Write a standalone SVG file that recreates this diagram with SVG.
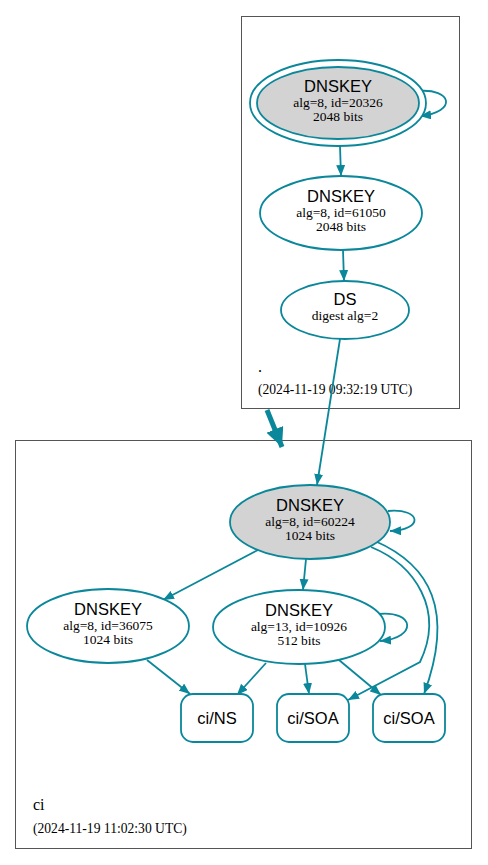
<svg xmlns="http://www.w3.org/2000/svg" width="488" height="865" viewBox="0 0 488 865">
<style>
.cl{fill:#fff;stroke:#555;stroke-width:1}
.n{stroke:#0a879a;stroke-width:1.8;fill:#fff}
.g{fill:#d3d3d3}
.e{fill:none;stroke:#0a879a;stroke-width:1.8}
.t{font-family:"Liberation Sans",Arial,sans-serif;font-size:16.5px;text-anchor:middle;fill:#000}
.s{font-family:"Liberation Serif","Times New Roman",serif;font-size:13.5px;text-anchor:middle;fill:#000}
.c{font-family:"Liberation Serif","Times New Roman",serif;font-size:13.6px;fill:#000}
.cn{font-family:"Liberation Serif","Times New Roman",serif;font-size:16px;fill:#000}
</style>
<defs>
<marker id="a" markerUnits="userSpaceOnUse" markerWidth="12" markerHeight="9" refX="11" refY="4.5" orient="auto">
<path d="M0,0 L11,4.5 L0,9 z" fill="#0a879a"/>
</marker>
<marker id="b" markerUnits="userSpaceOnUse" markerWidth="20" markerHeight="18" refX="19" refY="9" orient="auto">
<path d="M0,0 L19,9 L0,18 z" fill="#0a879a"/>
</marker>
</defs>
<rect width="488" height="865" fill="#fff"/>
<g id="cluster-root">
<rect class="cl" x="241.5" y="16.5" width="218" height="392"/>
<text class="cn" x="258" y="372">.</text>
<text class="c" x="258" y="394">(2024-11-19 09:32:19 UTC)</text>
</g>
<g id="cluster-ci">
<rect class="cl" x="15.5" y="440.5" width="456" height="408"/>
<text class="cn" x="33" y="810">ci</text>
<text class="c" x="33" y="833">(2024-11-19 11:02:30 UTC)</text>
</g>
<g id="edges">
<path class="e" d="M340,146 L341,176" marker-end="url(#a)"/>
<path class="e" d="M343,250 L344,281" marker-end="url(#a)"/>
<path class="e" d="M340,339 L317,485" marker-end="url(#a)"/>
<path class="e" d="M267,410 L282,447" style="stroke-width:5" marker-end="url(#b)"/>
<path class="e" d="M418,91 C452,88 458,112 420,116" marker-end="url(#a)"/>
<path class="e" d="M388,511 C422,508 424,530 390,531" marker-end="url(#a)"/>
<path class="e" d="M378,614 C415,610 418,638 380,641" marker-end="url(#a)"/>
<path class="e" d="M258,550 L163,600" marker-end="url(#a)"/>
<path class="e" d="M306,559 L303,590" marker-end="url(#a)"/>
<path class="e" d="M371,547 C415,565 445,610 420,662 L348,700" marker-end="url(#a)"/>
<path class="e" d="M375,541 C430,565 455,610 424,694" marker-end="url(#a)"/>
<path class="e" d="M147,660 L190,694" marker-end="url(#a)"/>
<path class="e" d="M266,663 L237,695" marker-end="url(#a)"/>
<path class="e" d="M305,664 L309,694" marker-end="url(#a)"/>
<path class="e" d="M339,660 L381,695" marker-end="url(#a)"/>
</g>
<g id="dnskey-20326">
<ellipse class="n" cx="338" cy="103" rx="88" ry="43"/>
<ellipse class="n g" cx="338" cy="103" rx="81" ry="36"/>
<text class="t" x="338" y="92">DNSKEY</text>
<text class="s" x="338" y="106.5">alg=8, id=20326</text>
<text class="s" x="338" y="121">2048 bits</text>
</g>
<g id="dnskey-61050">
<ellipse class="n" cx="341" cy="213" rx="81" ry="37"/>
<text class="t" x="341" y="202">DNSKEY</text>
<text class="s" x="341" y="216.5">alg=8, id=61050</text>
<text class="s" x="341" y="231">2048 bits</text>
</g>
<g id="ds">
<ellipse class="n" cx="345" cy="310" rx="64" ry="29"/>
<text class="t" x="345" y="305">DS</text>
<text class="s" x="345" y="320">digest alg=2</text>
</g>
<g id="dnskey-60224">
<ellipse class="n g" cx="310" cy="522" rx="80" ry="37"/>
<text class="t" x="310" y="511">DNSKEY</text>
<text class="s" x="310" y="525.5">alg=8, id=60224</text>
<text class="s" x="310" y="540">1024 bits</text>
</g>
<g id="dnskey-36075">
<ellipse class="n" cx="108" cy="626" rx="81" ry="37"/>
<text class="t" x="108" y="615">DNSKEY</text>
<text class="s" x="108" y="629.5">alg=8, id=36075</text>
<text class="s" x="108" y="644">1024 bits</text>
</g>
<g id="dnskey-10926">
<ellipse class="n" cx="299" cy="627" rx="86" ry="37"/>
<text class="t" x="299" y="616">DNSKEY</text>
<text class="s" x="299" y="630.5">alg=13, id=10926</text>
<text class="s" x="299" y="645">512 bits</text>
</g>
<g id="ci-ns">
<rect class="n" x="181" y="694" width="72" height="48" rx="12"/>
<text class="t" x="217" y="724">ci/NS</text>
</g>
<g id="ci-soa-1">
<rect class="n" x="277" y="694" width="72" height="48" rx="12"/>
<text class="t" x="313" y="724">ci/SOA</text>
</g>
<g id="ci-soa-2">
<rect class="n" x="373" y="694" width="72" height="48" rx="12"/>
<text class="t" x="409" y="724">ci/SOA</text>
</g>
</svg>
